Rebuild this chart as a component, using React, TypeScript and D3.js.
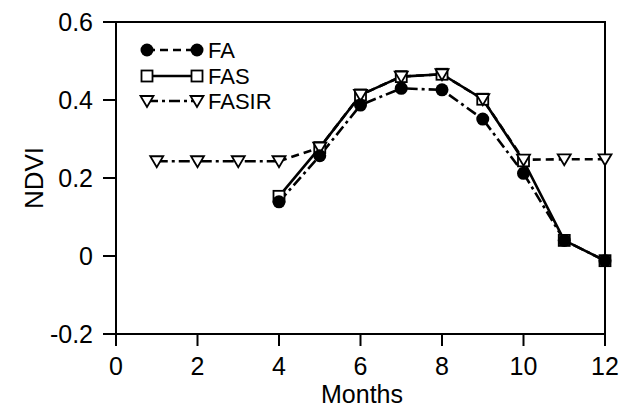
import React from "react";
import * as d3 from "d3";

const months = [1, 2, 3, 4, 5, 6, 7, 8, 9, 10, 11, 12];
const faMonths = [4, 5, 6, 7, 8, 9, 10, 11, 12];
const faValues = [0.139, 0.257, 0.387, 0.43, 0.426, 0.351, 0.212, 0.04, -0.012];
const fasMonths = [4, 5, 6, 7, 8, 9, 10, 11, 12];
const fasValues = [0.153, 0.278, 0.413, 0.46, 0.466, 0.402, 0.244, 0.04, -0.012];
const fasirMonths = months;
const fasirValues = [0.243, 0.243, 0.243, 0.243, 0.278, 0.413, 0.46, 0.466, 0.402, 0.247, 0.248, 0.248];
const xTicks = [0, 2, 4, 6, 8, 10, 12];
const yTicks = [-0.2, 0, 0.2, 0.4, 0.6];
const legendLabels = ["FA", "FAS", "FASIR"];

const W = 634;
const H = 411;
const left = 116;
const right = 605;
const top = 22;
const bottom = 334;
const FONT = "'Liberation Sans', Arial, Helvetica, sans-serif";
const DASH = "8,5";
const DASHDOT = "11,4,3,4";
const LW = 2.6;

const x = d3.scaleLinear().domain([0, 12]).range([left, right]);
const y = d3.scaleLinear().domain([-0.2, 0.6]).range([bottom, top]);

type P = [number, number];
const zip = (ms: number[], vs: number[]): P[] => ms.map((m, i) => [m, vs[i]]);
const line = d3.line<P>().x((d) => x(d[0])).y((d) => y(d[1]));
const fmt = (t: number) => (t === 0 ? "0" : t.toFixed(1));

const Circle = ({ cx, cy }: { cx: number; cy: number }) => (
  <circle cx={cx} cy={cy} r={6.5} fill="#000" />
);
const Square = ({ cx, cy }: { cx: number; cy: number }) => (
  <rect x={cx - 5.5} y={cy - 5.5} width={11} height={11} fill="#fff" stroke="#000" strokeWidth={1.8} />
);
const Tri = ({ cx, cy }: { cx: number; cy: number }) => (
  <path d={`M${cx - 6.5},${cy - 5} L${cx + 6.5},${cy - 5} L${cx},${cy + 6} Z`} fill="#fff" stroke="#000" strokeWidth={1.8} />
);

export default function App() {
  const fa = zip(faMonths, faValues);
  const fas = zip(fasMonths, fasValues);
  const fasir = zip(fasirMonths, fasirValues);
  const fasirEarly = fasir.filter((d) => d[0] <= 4);
  const fasirLate = fasir.filter((d) => d[0] >= 4);

  const legendX0 = 147;
  const legendX1 = 197;
  const legendYs = [50, 76, 101];

  return (
    <svg width={W} height={H} style={{ position: "absolute", left: 0, top: 0, background: "#fff" }}>
      <rect x={0} y={0} width={W} height={H} fill="#fff" />
      <rect x={left} y={top} width={right - left} height={bottom - top} fill="none" stroke="#000" strokeWidth={2} />
      {yTicks.map((t) => (
        <g key={"y" + t}>
          <line x1={left - 13} x2={left} y1={y(t)} y2={y(t)} stroke="#000" strokeWidth={2} />
          <text x={93} y={y(t)} textAnchor="end" dominantBaseline="central" fontFamily={FONT} fontSize={25} fill="#000">
            {fmt(t)}
          </text>
        </g>
      ))}
      {xTicks.map((t) => (
        <g key={"x" + t}>
          <line x1={x(t)} x2={x(t)} y1={bottom} y2={bottom + 12} stroke="#000" strokeWidth={2} />
          <text x={x(t)} y={375} textAnchor="middle" fontFamily={FONT} fontSize={25} fill="#000">
            {t}
          </text>
        </g>
      ))}
      <text x={362} y={403} textAnchor="middle" fontFamily={FONT} fontSize={25} fill="#000">
        Months
      </text>
      <text transform={`translate(43,${(top + bottom) / 2}) rotate(-90)`} textAnchor="middle" fontFamily={FONT} fontSize={26} fill="#000">
        NDVI
      </text>

      <path d={line(fasirEarly) || ""} fill="none" stroke="#000" strokeWidth={LW} strokeDasharray={DASHDOT} />
      <path d={line(fasirLate) || ""} fill="none" stroke="#000" strokeWidth={LW} strokeDasharray={DASH} />
      <path d={line(fa) || ""} fill="none" stroke="#000" strokeWidth={LW} strokeDasharray={DASHDOT} />
      <path d={line(fas) || ""} fill="none" stroke="#000" strokeWidth={LW} />

      {fas.map((d, i) => (
        <Square key={"s" + i} cx={x(d[0])} cy={y(d[1])} />
      ))}
      {fasir.map((d, i) => (
        <Tri key={"t" + i} cx={x(d[0])} cy={y(d[1])} />
      ))}
      {fa.map((d, i) => (
        <Circle key={"c" + i} cx={x(d[0])} cy={y(d[1])} />
      ))}

      {legendLabels.map((lab, i) => {
        const ly = legendYs[i];
        const dash = i === 0 ? DASH : i === 2 ? DASHDOT : undefined;
        return (
          <g key={lab}>
            <line x1={legendX0} x2={legendX1} y1={ly} y2={ly} stroke="#000" strokeWidth={LW} strokeDasharray={dash} />
            {i === 0 && (
              <>
                <Circle cx={legendX0} cy={ly} />
                <Circle cx={legendX1} cy={ly} />
              </>
            )}
            {i === 1 && (
              <>
                <Square cx={legendX0} cy={ly} />
                <Square cx={legendX1} cy={ly} />
              </>
            )}
            {i === 2 && (
              <>
                <Tri cx={legendX0} cy={ly} />
                <Tri cx={legendX1} cy={ly} />
              </>
            )}
            <text x={208} y={ly} dominantBaseline="central" fontFamily={FONT} fontSize={22} fill="#000">
              {lab}
            </text>
          </g>
        );
      })}
    </svg>
  );
}
